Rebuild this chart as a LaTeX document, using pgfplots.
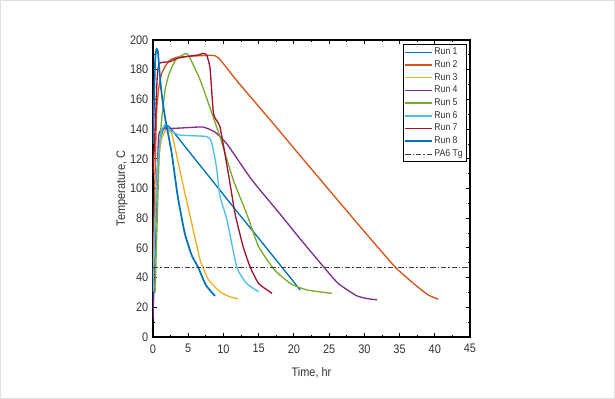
\documentclass[border=0pt]{standalone}
\usepackage{pgfplots}
\pgfplotsset{compat=1.18}
\usepackage{fontspec}
\setmainfont[FakeStretch=0.88]{Liberation Sans}
\definecolor{c1}{HTML}{0072BD}
\definecolor{c2}{HTML}{D95319}
\definecolor{c3}{HTML}{EDB120}
\definecolor{c4}{HTML}{7E2F8E}
\definecolor{c5}{HTML}{77AC30}
\definecolor{c6}{HTML}{4DBEEE}
\definecolor{c7}{HTML}{A2142F}
\begin{document}
\begin{tikzpicture}
\useasboundingbox (0,0) rectangle (461.25pt,299.25pt);
\draw[black!12, line width=0.8pt] (0.4pt,0.4pt) rectangle (460.85pt,298.85pt);
\begin{axis}[
  at={(114.75pt,46.5pt)}, anchor=south west,
  scale only axis, width=237.75pt, height=222.75pt,
  xmin=0, xmax=45, ymin=0, ymax=200,
  xtick={0,5,...,45}, ytick={0,20,...,200},
  minor x tick num=1, minor y tick num=1,
  tick align=inside, major tick length=3pt, minor tick length=1.6pt,
  every tick/.style={black, line width=0.6pt},
  axis line style={black, line width=1.1pt},
  tick label style={font=\fontsize{9.3}{10}\selectfont, text=black!80},
  xticklabel style={yshift=-2pt},
  /pgf/number format/assume math mode=true,
  xlabel={Time, hr}, ylabel={Temperature, C},
  label style={font=\fontsize{9.3}{10}\selectfont, text=black!80},
  xlabel style={yshift=-4pt}, ylabel style={yshift=-5pt},
  legend style={at={(rel axis cs:0.988,0.985)}, anchor=north east,
    font=\fontsize{7.4}{8.4}\selectfont, draw=black,
    inner sep=1.2pt, row sep=0.5pt, text=black!80,
    nodes={inner sep=1.2pt}},
  legend cell align=left,
  legend image code/.code={\draw[#1] (0pt,0pt) -- (20pt,0pt);},
  every axis plot/.append style={line width=1pt, smooth, tension=0.3},
]
% Run 1
\addplot[c1] coordinates {(0,25) (0.3,70) (0.6,110) (1,132) (1.5,140) (2.2,142) (5,125.5) (8.6,104.2) (12,84) (15,66.5) (18,48.8) (19.5,40) (20.9,31.6)};
% Run 2
\addplot[c2] coordinates {(0,30) (0.2,90) (0.5,150) (0.8,167) (1.2,177) (1.7,182) (2.4,186.5) (3.5,188.5) (5,189) (8.3,189.7) (9.3,188) (12,172) (16.4,147.5) (20.2,126) (25,99) (30,71) (34.4,47) (37,36) (39,28.5) (40.5,25.4)};
% Run 3
\addplot[c3] coordinates {(0,40) (0.3,80) (0.7,115) (1.2,133) (1.9,139.8) (2.65,137) (3.1,128) (4.1,106) (5.5,76.5) (6.7,51.8) (7.9,38.4) (9.5,30.5) (10.8,27.3) (12.1,25.6)};
% Run 4
\addplot[c4] coordinates {(0,12) (0.3,60) (0.6,110) (0.8,135) (1.2,140) (3,140.5) (5,141) (7.1,141.4) (8.8,138) (10.5,130) (14,106) (18,83) (20.9,66) (24.2,47.3) (26.3,36) (28.9,27.8) (30.5,25.8) (31.8,25)};
% Run 5
\addplot[c5] coordinates {(0.3,30) (0.6,80) (0.9,125) (1.2,145) (1.7,166) (2.2,176) (2.9,184) (3.5,188) (4.5,190.6) (5,190) (6.7,173) (9.5,135) (11.4,105.7) (13.3,83) (15,60.8) (17.1,46) (18,41.8) (19.5,36) (20.4,34) (22,31.5) (25.4,29.4)};
% Run 6
\addplot[c6] coordinates {(0,30) (0.3,75) (0.7,118) (1.2,138) (1.7,142.8) (2.5,139) (3.8,136) (7.6,135) (8.3,131.5) (9.0,114.7) (9.5,95) (10.5,78.8) (11.9,47) (13.3,36) (15,30.5)};
% Run 7
\addplot[c7] coordinates {(0,110) (0.3,140) (0.6,175) (0.9,184.3) (2.4,185.4) (3.4,187.6) (5,189) (6.5,190) (7.1,191) (7.6,190) (8.1,181) (8.6,150) (9.5,141.6) (10.7,110) (11.65,83) (12.8,60.8) (13.8,47) (15,36) (16.9,29.4)};
% Run 8
\addplot[c1, line width=1.3pt] coordinates {(0,130) (0.3,185) (0.5,194) (0.7,192) (0.9,180) (1.2,165) (1.7,148) (2.65,124) (3.5,95) (4.5,70) (5.5,55) (6.4,47) (7.5,35) (8.8,27.6)};
% Tg
\addplot[black!75, line width=0.6pt, sharp plot, dash pattern=on 4pt off 1.5pt on 1pt off 1.5pt] coordinates {(0,47) (45,47)};
\legend{Run 1,Run 2,Run 3,Run 4,Run 5,Run 6,Run 7,Run 8,PA6 Tg}
\end{axis}
\end{tikzpicture}
\end{document}
